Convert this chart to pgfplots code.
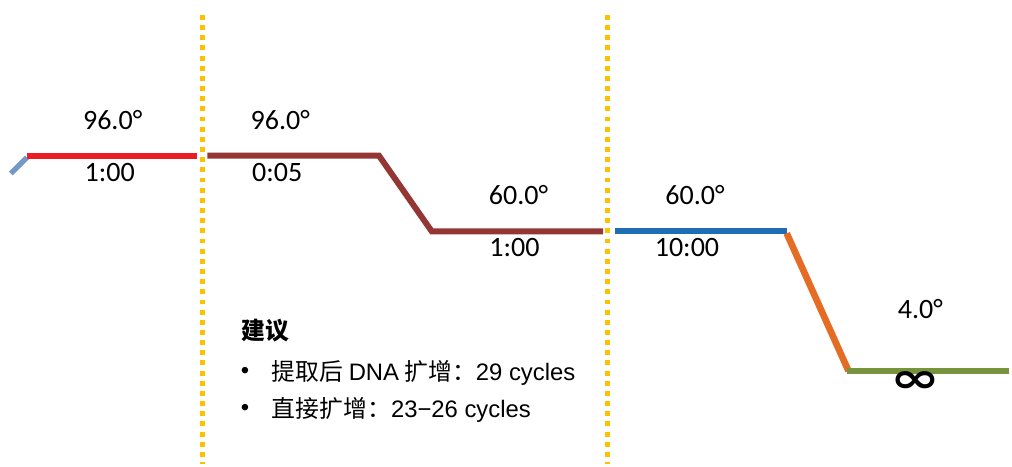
\documentclass[border=0pt]{standalone}
\usepackage{pgfplots}
\pgfplotsset{compat=1.18}
\usepackage{fontspec}
\setmainfont{Carlito}
\newfontfamily\cjk{Noto Sans CJK SC}
\newfontfamily\arial{Liberation Sans}
\newfontfamily\djv{DejaVu Sans}

\definecolor{stepred}{HTML}{ED1C24}
\definecolor{stepbrown}{HTML}{943634}
\definecolor{stepblue}{HTML}{1F6EB5}
\definecolor{steporange}{HTML}{E46C24}
\definecolor{stepgreen}{HTML}{77933C}
\definecolor{dividercol}{HTML}{FFC000}
\definecolor{rampblue}{HTML}{4676B5}

\tikzset{
  lbl/.style={font=\fontsize{8}{9}\selectfont},
  notetxt/.style={font=\fontsize{6.8}{8}\selectfont, anchor=west, inner sep=0pt},
}

\begin{document}
\begin{tikzpicture}
\begin{axis}[
    width=10.12cm, height=4.65cm,
    scale only axis,
    xmin=0, xmax=1012, ymin=0, ymax=465,
    y dir=reverse,
    hide axis,
    clip=false,
  ]
  \addplot[draw=none] coordinates {(0,0) (1012,465)};
  % dividers
  \addplot[color=dividercol, line width=1.4pt, dash pattern={on 1.4pt off 1.5pt}] coordinates {(203,15) (203,465)};
  \addplot[color=dividercol, line width=1.4pt, dash pattern={on 1.4pt off 1.5pt}] coordinates {(609,15) (609,465)};
  % profile
  \addplot[color=rampblue, opacity=0.75, line width=1.5pt] coordinates {(11,174) (27,158)};
  \addplot[color=stepred, line width=1.7pt] coordinates {(27,156) (198,156)};
  \addplot[color=stepbrown, line width=1.7pt] coordinates {(208,156) (380,156) (433,232) (605,232)};
  \addplot[color=stepblue, line width=1.7pt] coordinates {(617,232) (789,232)};
  \addplot[color=steporange, line width=1.9pt] coordinates {(789,234) (851,372)};
  \addplot[color=stepgreen, line width=1.7pt] coordinates {(849,372) (1012,372)};
  % anchor points for the labels
  \coordinate (la) at (axis cs:113,120);
  \coordinate (lb) at (axis cs:110,173);
  \coordinate (lc) at (axis cs:281,120);
  \coordinate (ld) at (axis cs:278,173);
  \coordinate (le) at (axis cs:520,196);
  \coordinate (lf) at (axis cs:516,248);
  \coordinate (lg) at (axis cs:697,196);
  \coordinate (lh) at (axis cs:689,248);
  \coordinate (li) at (axis cs:923,310);
  \coordinate (lj) at (axis cs:918,383);
  \coordinate (na) at (axis cs:242,332);
  \coordinate (nb) at (axis cs:241,374);
  \coordinate (nc) at (axis cs:272,374);
  \coordinate (nd) at (axis cs:241,411);
  \coordinate (ne) at (axis cs:272,411);
\end{axis}
\node[lbl] at (la) {96.0°};
\node[lbl] at (lb) {1:00};
\node[lbl] at (lc) {96.0°};
\node[lbl] at (ld) {0:05};
\node[lbl] at (le) {60.0°};
\node[lbl] at (lf) {1:00};
\node[lbl] at (lg) {60.0°};
\node[lbl] at (lh) {10:00};
\node[lbl] at (li) {4.0°};
\node[inner sep=0pt] at (lj) {\resizebox{5mm}{2.1mm}{\djv\bfseries ∞}};
\node[notetxt] at (na) {\cjk\bfseries 建议};
\node[notetxt] at (nb) {\arial •};
\node[notetxt] at (nc) {{\cjk 提取后} {\arial DNA} {\cjk 扩增：}{\arial 29 cycles}};
\node[notetxt] at (nd) {\arial •};
\node[notetxt] at (ne) {{\cjk 直接扩增：}{\arial 23−26 cycles}};
\end{tikzpicture}
\end{document}
